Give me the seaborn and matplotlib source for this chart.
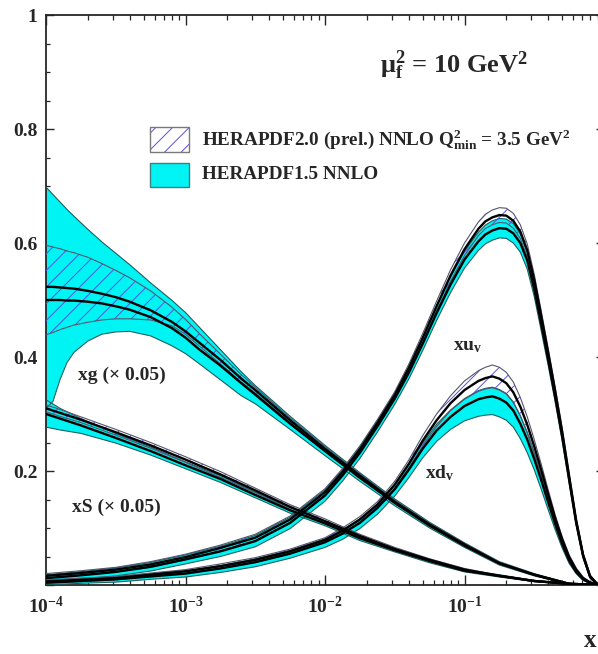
import numpy as np
import matplotlib
matplotlib.use("Agg")
import matplotlib.pyplot as plt
import seaborn as sns
from matplotlib.patches import Rectangle
from matplotlib.ticker import FixedLocator, FuncFormatter, MultipleLocator, LogLocator, NullFormatter

# ---------------------------------------------------------------------------
# Parton distributions at mu_f^2 = 10 GeV^2 (xg and xS scaled by 0.05)
# grids are given in log10(x)
# ---------------------------------------------------------------------------

# gluon xg (x 0.05)
XG_LOGX = [-4, -3.95, -3.9, -3.85, -3.8, -3.7, -3.6, -3.5, -3.4, -3.25, -3.1, -3.0,
           -2.9, -2.75, -2.6, -2.5, -2.25, -2.0, -1.75, -1.5, -1.25, -1.0, -0.75,
           -0.5, -0.25, 0.0]
XG_C20 = [0.523, 0.523, 0.522, 0.521, 0.520, 0.516, 0.511, 0.505, 0.497, 0.482, 0.462,
          0.445, 0.425, 0.395, 0.362, 0.342, 0.289, 0.239, 0.192, 0.146, 0.106, 0.071,
          0.038, 0.018, 0.002, 0.0]
XG_LO20 = [0.439, 0.443, 0.448, 0.452, 0.456, 0.461, 0.465, 0.467, 0.467, 0.465, 0.455,
           0.440, 0.419, 0.388, 0.356, 0.337, 0.285, 0.235, 0.189, 0.143, 0.104, 0.069,
           0.036, 0.017, 0.001, 0.0]
XG_HI20 = [0.596, 0.593, 0.590, 0.586, 0.583, 0.575, 0.564, 0.552, 0.539, 0.516, 0.488,
           0.466, 0.441, 0.405, 0.369, 0.347, 0.293, 0.243, 0.195, 0.149, 0.108, 0.073,
           0.040, 0.019, 0.002, 0.0]
XG_C15 = [0.500, 0.500, 0.500, 0.499, 0.499, 0.497, 0.494, 0.489, 0.483, 0.470, 0.451,
          0.434, 0.413, 0.385, 0.354, 0.334, 0.283, 0.235, 0.188, 0.144, 0.104, 0.069,
          0.038, 0.018, 0.002, 0.0]
XG_LO15 = [0.310, 0.322, 0.360, 0.390, 0.408, 0.428, 0.440, 0.444, 0.445, 0.437, 0.420,
           0.406, 0.388, 0.360, 0.332, 0.318, 0.273, 0.227, 0.182, 0.139, 0.100, 0.066,
           0.035, 0.016, 0.001, 0.0]
XG_HI15 = [0.698, 0.685, 0.672, 0.659, 0.647, 0.624, 0.602, 0.582, 0.562, 0.530, 0.500,
           0.478, 0.452, 0.413, 0.374, 0.350, 0.296, 0.245, 0.197, 0.151, 0.110, 0.074,
           0.041, 0.020, 0.003, 0.0]

# sea xS (x 0.05)
XS_LOGX = [-4, -3.9, -3.75, -3.5, -3.25, -3.0, -2.75, -2.5, -2.25, -2.0, -1.75, -1.5,
           -1.25, -1.0, -0.75, -0.5, -0.25, 0.0]
XS_C20 = [0.310, 0.302, 0.290, 0.268, 0.245, 0.220, 0.194, 0.166, 0.137, 0.112, 0.086,
          0.063, 0.044, 0.027, 0.016, 0.007, 0.002, 0.0]
XS_ERR20 = [0.006, 0.006, 0.005, 0.005, 0.005, 0.005, 0.005, 0.004, 0.004, 0.004, 0.003,
            0.003, 0.002, 0.002, 0.001, 0.001, 0.0005, 0.0]
XS_C15 = [0.300, 0.292, 0.280, 0.258, 0.235, 0.210, 0.186, 0.158, 0.131, 0.108, 0.082,
          0.061, 0.042, 0.025, 0.016, 0.007, 0.002, 0.0]
XS_UP15 = [0.025, 0.018, 0.012, 0.008, 0.007, 0.006, 0.006, 0.005, 0.005, 0.004, 0.004,
           0.003, 0.003, 0.002, 0.002, 0.001, 0.0005, 0.0]
XS_DN15 = [0.023, 0.020, 0.014, 0.009, 0.007, 0.006, 0.006, 0.005, 0.005, 0.004, 0.004,
           0.003, 0.003, 0.002, 0.002, 0.001, 0.0005, 0.0]

# valence xu_v
XUV_LOGX = [-4, -3.75, -3.5, -3.25, -3.0, -2.75, -2.5, -2.25, -2.0, -1.875, -1.75, -1.625,
            -1.5, -1.4, -1.3, -1.2, -1.1, -1.0, -0.9, -0.85, -0.8, -0.75, -0.7, -0.65,
            -0.6, -0.55, -0.5, -0.45, -0.4, -0.35, -0.3, -0.25, -0.2, -0.15, -0.1, -0.05, 0.0]
XUV_C20 = [0.016, 0.021, 0.027, 0.036, 0.049, 0.065, 0.083, 0.115, 0.163, 0.198, 0.238,
           0.284, 0.333, 0.380, 0.433, 0.489, 0.543, 0.589, 0.625, 0.638, 0.645, 0.649,
           0.648, 0.639, 0.620, 0.587, 0.535, 0.472, 0.407, 0.340, 0.269, 0.191, 0.114,
           0.053, 0.0155, 0.002, 0.0]
XUV_ERR20 = [0.004, 0.004, 0.004, 0.005, 0.005, 0.005, 0.006, 0.006, 0.006, 0.006, 0.006,
             0.006, 0.006, 0.007, 0.008, 0.009, 0.010, 0.011, 0.012, 0.0125, 0.013, 0.013,
             0.013, 0.013, 0.012, 0.011, 0.010, 0.009, 0.008, 0.007, 0.006, 0.005, 0.004,
             0.003, 0.002, 0.001, 0.0]
XUV_C15 = [0.012, 0.017, 0.023, 0.032, 0.045, 0.059, 0.077, 0.109, 0.157, 0.192, 0.232,
           0.278, 0.327, 0.372, 0.423, 0.477, 0.527, 0.571, 0.603, 0.615, 0.622, 0.626,
           0.625, 0.617, 0.600, 0.569, 0.519, 0.458, 0.395, 0.330, 0.261, 0.185, 0.110,
           0.051, 0.0145, 0.002, 0.0]
XUV_ERR15 = [0.006, 0.0065, 0.007, 0.0075, 0.008, 0.009, 0.010, 0.010, 0.010, 0.010, 0.010,
             0.010, 0.010, 0.011, 0.012, 0.013, 0.014, 0.015, 0.016, 0.0165, 0.017, 0.017,
             0.017, 0.017, 0.016, 0.015, 0.013, 0.012, 0.010, 0.009, 0.008, 0.006, 0.005,
             0.004, 0.003, 0.001, 0.0]

# valence xd_v
XDV_LOGX = [-4, -3.75, -3.5, -3.25, -3.0, -2.75, -2.5, -2.25, -2.0, -1.875, -1.75, -1.625,
            -1.5, -1.4, -1.3, -1.2, -1.1, -1.0, -0.9, -0.85, -0.8, -0.75, -0.7, -0.65,
            -0.6, -0.55, -0.5, -0.45, -0.4, -0.35, -0.3, -0.25, -0.2, -0.15, -0.1, -0.05, 0.0]
XDV_C20 = [0.006, 0.009, 0.012, 0.018, 0.024, 0.033, 0.044, 0.059, 0.079, 0.095, 0.115,
           0.141, 0.176, 0.212, 0.253, 0.289, 0.319, 0.342, 0.358, 0.363, 0.366, 0.362,
           0.354, 0.338, 0.313, 0.281, 0.243, 0.202, 0.159, 0.117, 0.080, 0.049, 0.027,
           0.012, 0.0045, 0.001, 0.0]
XDV_ERR20 = [0.003, 0.003, 0.003, 0.003, 0.003, 0.004, 0.004, 0.004, 0.004, 0.005, 0.005,
             0.005, 0.006, 0.007, 0.009, 0.011, 0.013, 0.016, 0.018, 0.019, 0.020, 0.020,
             0.019, 0.018, 0.016, 0.014, 0.012, 0.010, 0.008, 0.006, 0.005, 0.004, 0.003,
             0.002, 0.001, 0.0005, 0.0]
XDV_C15 = [0.004, 0.007, 0.010, 0.015, 0.020, 0.029, 0.040, 0.055, 0.075, 0.090, 0.109,
           0.135, 0.168, 0.202, 0.239, 0.271, 0.295, 0.314, 0.326, 0.329, 0.331, 0.327,
           0.320, 0.306, 0.283, 0.255, 0.221, 0.184, 0.145, 0.107, 0.072, 0.043, 0.023,
           0.010, 0.0035, 0.001, 0.0]
XDV_UP15 = [0.004, 0.004, 0.004, 0.005, 0.005, 0.005, 0.006, 0.006, 0.006, 0.007, 0.007,
            0.007, 0.008, 0.009, 0.010, 0.011, 0.012, 0.013, 0.015, 0.016, 0.016, 0.016,
            0.016, 0.015, 0.014, 0.013, 0.011, 0.010, 0.008, 0.006, 0.005, 0.004, 0.003,
            0.002, 0.001, 0.0005, 0.0]
XDV_DN15 = [0.004, 0.004, 0.005, 0.005, 0.006, 0.007, 0.008, 0.008, 0.009, 0.010, 0.010,
            0.011, 0.012, 0.014, 0.016, 0.019, 0.022, 0.026, 0.030, 0.031, 0.032, 0.032,
            0.031, 0.029, 0.026, 0.023, 0.019, 0.016, 0.013, 0.010, 0.007, 0.005, 0.003,
            0.002, 0.001, 0.0005, 0.0]

X_TICKS = [1e-4, 1e-3, 1e-2, 1e-1]
X_TICK_LABELS = [r"$\mathbf{10^{-4}}$", r"$\mathbf{10^{-3}}$", r"$\mathbf{10^{-2}}$", r"$\mathbf{10^{-1}}$"]
Y_TICKS = [0.0, 0.2, 0.4, 0.6, 0.8, 1.0]
Y_TICK_LABELS = ["", "0.2", "0.4", "0.6", "0.8", "1"]

LEGEND_20 = r"HERAPDF2.0 (prel.) NNLO Q$^{\mathbf{2}}_{\mathbf{min}}$ = 3.5 GeV$^{\mathbf{2}}$"
LEGEND_15 = "HERAPDF1.5 NNLO"
SCALE_LABEL = r"$\mathbf{\mu^2_f}$ = 10 GeV$^{\mathbf{2}}$"

# ---------------------------------------------------------------------------
sns.set_style("ticks")
plt.rcParams.update({
    "font.family": ["Liberation Serif", "DejaVu Serif"],
    "font.weight": "bold",
    "mathtext.fontset": "custom",
    "mathtext.rm": "Liberation Serif:bold",
    "mathtext.it": "Liberation Serif:bold",
    "mathtext.bf": "Liberation Serif:bold",
    "mathtext.default": "bf",
    "hatch.linewidth": 0.7,
    "axes.linewidth": 1.3,
})

CYAN = "#00f4f4"
CYAN_EDGE = "#1f5f5f"
HATCH = "#5b4fe0"
HATCH_EDGE = "#55556e"

fig = plt.figure(figsize=(5.98, 6.54), dpi=100)
ax = fig.add_axes([46 / 598, 69 / 654, 558 / 598, 570 / 654])
ax.set_xscale("log")


def draw_pdf(logx, c20, lo20, hi20, c15, lo15, hi15):
    x = 10.0 ** np.asarray(logx, dtype=float)
    ax.fill_between(x, lo15, hi15, facecolor=CYAN, edgecolor="none", linewidth=0, zorder=2)
    for edge in (lo15, hi15):
        ax.plot(x, edge, color=CYAN_EDGE, lw=0.8, zorder=3)
    ax.fill_between(x, lo20, hi20, facecolor="none", edgecolor=HATCH, hatch="//",
                    linewidth=0, zorder=4)
    for edge in (lo20, hi20):
        ax.plot(x, edge, color=HATCH_EDGE, lw=0.8, zorder=5)
    for c in (c20, c15):
        sns.lineplot(x=x, y=np.asarray(c, dtype=float), ax=ax, color="black", linewidth=1.7,
                     estimator=None, sort=False, legend=False, zorder=6)


def band(c, err_up, err_dn):
    c = np.asarray(c, dtype=float)
    return c - np.asarray(err_dn, dtype=float), c + np.asarray(err_up, dtype=float)


draw_pdf(XG_LOGX, XG_C20, XG_LO20, XG_HI20, XG_C15, XG_LO15, XG_HI15)
draw_pdf(XS_LOGX, XS_C20, *band(XS_C20, XS_ERR20, XS_ERR20),
         XS_C15, *band(XS_C15, XS_UP15, XS_DN15))
draw_pdf(XUV_LOGX, XUV_C20, *band(XUV_C20, XUV_ERR20, XUV_ERR20),
         XUV_C15, *band(XUV_C15, XUV_ERR15, XUV_ERR15))
draw_pdf(XDV_LOGX, XDV_C20, *band(XDV_C20, XDV_ERR20, XDV_ERR20),
         XDV_C15, *band(XDV_C15, XDV_UP15, XDV_DN15))

ax.set_xlim(1e-4, 1.0)
ax.set_ylim(0.0, 1.0)

ax.xaxis.set_major_locator(FixedLocator(X_TICKS + [1.0]))
ax.xaxis.set_major_formatter(FuncFormatter(
    lambda v, p: X_TICK_LABELS[X_TICKS.index(v)] if v in X_TICKS else ""))
ax.xaxis.set_minor_locator(LogLocator(base=10, subs=np.arange(2, 10), numticks=20))
ax.xaxis.set_minor_formatter(NullFormatter())
ax.yaxis.set_major_locator(FixedLocator(Y_TICKS))
ax.yaxis.set_major_formatter(FuncFormatter(
    lambda v, p: Y_TICK_LABELS[p] if p is not None and p < len(Y_TICK_LABELS) else ""))
ax.yaxis.set_minor_locator(MultipleLocator(0.05))

ax.tick_params(axis="x", which="major", direction="in", length=7, width=1.0,
               top=True, bottom=True, labelsize=14, pad=8)
ax.tick_params(axis="x", which="minor", direction="in", length=3.5, width=0.9,
               top=True, bottom=True)
ax.tick_params(axis="y", which="major", direction="in", length=5.5, width=1.0,
               left=True, right=True, labelsize=14, pad=6)
ax.tick_params(axis="y", which="minor", direction="in", length=3, width=0.9,
               left=True, right=True)
for lab in ax.get_yticklabels():
    lab.set_fontweight("bold")
for side in ("top", "right", "bottom", "left"):
    ax.spines[side].set_visible(True)
    ax.spines[side].set_linewidth(1.3)

# curve labels
ax.text(0.0573, 0.3596, "xg (× 0.05)", transform=ax.transAxes, fontsize=14, fontweight="bold")
ax.text(0.0466, 0.128, "xS (× 0.05)", transform=ax.transAxes, fontsize=14, fontweight="bold")
ax.text(0.7294, 0.4123, r"xu$_{\mathbf{v}}$", transform=ax.transAxes, fontsize=14, fontweight="bold")
ax.text(0.679, 0.1877, r"xd$_{\mathbf{v}}$", transform=ax.transAxes, fontsize=14, fontweight="bold")

ax.text(0.5986, 0.898, SCALE_LABEL, transform=ax.transAxes, fontsize=19, fontweight="bold")

# legend
ax.add_patch(Rectangle((0.1864, 0.7596), 0.0699, 0.0439, transform=ax.transAxes,
                       facecolor="white", edgecolor=HATCH, hatch="//", linewidth=0, zorder=7))
ax.add_patch(Rectangle((0.1864, 0.7596), 0.0699, 0.0439, transform=ax.transAxes,
                       facecolor="none", edgecolor="#7a7a7a", linewidth=1.0, zorder=8))
ax.add_patch(Rectangle((0.1864, 0.6982), 0.0699, 0.0422, transform=ax.transAxes,
                       facecolor=CYAN, edgecolor="#3f7f7f", linewidth=1.0, zorder=7))
ax.text(0.2796, 0.7815, LEGEND_20, transform=ax.transAxes, fontsize=13.8,
        fontweight="bold", va="center")
ax.text(0.2796, 0.7193, LEGEND_15, transform=ax.transAxes, fontsize=13.8,
        fontweight="bold", va="center")

# axis variable, bottom-right corner
fig.text(596 / 598, 2 / 654, "x", fontsize=18, fontweight="bold", ha="right", va="bottom")

fig.savefig("out.png", dpi=100)
